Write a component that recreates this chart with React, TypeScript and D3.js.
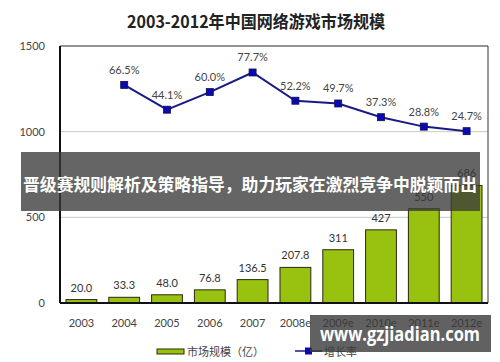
import React, { useEffect, useRef } from 'react';
import * as d3 from 'd3';

const years = ['2003', '2004', '2005', '2006', '2007', '2008e', '2009e', '2010e', '2011e', '2012e'];
const marketSize = [20.0, 33.3, 48.0, 76.8, 136.5, 207.8, 311, 427, 550, 686];
const sizeLabels = ['20.0', '33.3', '48.0', '76.8', '136.5', '207.8', '311', '427', '550', '686'];
const growthYears = ['2004', '2005', '2006', '2007', '2008e', '2009e', '2010e', '2011e', '2012e'];
const growthRate = [66.5, 44.1, 60.0, 77.7, 52.2, 49.7, 37.3, 28.8, 24.7];
const yTicks = [0, 500, 1000, 1500];

const title = '2003-2012年中国网络游戏市场规模';
const bannerText = '晋级赛规则解析及策略指导，助力玩家在激烈竞争中脱颖而出';
const watermark = 'www.gzjiadian.com';

const W = 500;
const H = 362;

export default function App() {
  const ref = useRef<SVGSVGElement>(null);

  useEffect(() => {
    const svg = d3.select(ref.current);
    svg.selectAll('*').remove();

    const margin = { top: 46, right: 12, bottom: 59, left: 60 };
    const font = "'Lato', 'Noto Sans CJK SC', sans-serif";

    const x = d3.scaleBand().domain(years).range([margin.left, W - margin.right]).paddingInner(0.28).paddingOuter(0.14);
    const y = d3.scaleLinear().domain([0, 1500]).range([H - margin.bottom, margin.top]);
    // hidden secondary axis for the growth rate
    const y2 = d3.scaleLinear().domain([0, 100]).range([158.5, 47.8]);

    svg.append('rect').attr('width', W).attr('height', H).attr('fill', '#fff');

    // title
    svg.append('text')
      .attr('x', 256).attr('y', 28)
      .attr('text-anchor', 'middle')
      .attr('font-family', "'Noto Sans CJK SC', sans-serif")
      .attr('font-size', 17).attr('font-weight', 'bold')
      .attr('fill', '#222')
      .attr('textLength', 258).attr('lengthAdjust', 'spacingAndGlyphs')
      .text(title);

    // grid lines
    svg.append('g').selectAll('line')
      .data([500, 1000])
      .join('line')
      .attr('x1', margin.left).attr('x2', W - margin.right)
      .attr('y1', d => y(d)).attr('y2', d => y(d))
      .attr('stroke', '#c8c8c8').attr('stroke-width', 1);

    // frame
    svg.append('line').attr('x1', margin.left).attr('x2', W - margin.right)
      .attr('y1', y(1500)).attr('y2', y(1500)).attr('stroke', '#707070').attr('stroke-width', 1.5);
    svg.append('line').attr('x1', W - margin.right).attr('x2', W - margin.right)
      .attr('y1', y(1500)).attr('y2', y(0)).attr('stroke', '#333').attr('stroke-width', 1);

    // y axis labels
    svg.append('g').selectAll('text')
      .data(yTicks)
      .join('text')
      .attr('x', 45).attr('y', d => y(d) + 4)
      .attr('text-anchor', 'end')
      .attr('font-family', font).attr('font-size', 11).attr('fill', '#444')
      .text(d => d);

    // bars
    svg.append('g').selectAll('rect')
      .data(marketSize)
      .join('rect')
      .attr('x', (d, i) => x(years[i])!)
      .attr('width', x.bandwidth())
      .attr('y', d => y(d))
      .attr('height', d => y(0) - y(d))
      .attr('fill', '#99c10f')
      .attr('stroke', '#2a2a10').attr('stroke-width', 1);

    svg.append('g').selectAll('text')
      .data(marketSize)
      .join('text')
      .attr('x', (d, i) => x(years[i])! + x.bandwidth() / 2)
      .attr('y', d => y(d) - 8)
      .attr('text-anchor', 'middle')
      .attr('font-family', font).attr('font-size', 11).attr('fill', '#333')
      .text((d, i) => sizeLabels[i]);

    // axes lines
    svg.append('line').attr('x1', margin.left).attr('x2', margin.left)
      .attr('y1', y(1500)).attr('y2', y(0)).attr('stroke', '#111').attr('stroke-width', 2);
    svg.append('line').attr('x1', margin.left).attr('x2', W - margin.right)
      .attr('y1', y(0)).attr('y2', y(0)).attr('stroke', '#111').attr('stroke-width', 2);

    // x labels
    svg.append('g').selectAll('text')
      .data(years)
      .join('text')
      .attr('x', d => x(d)! + x.bandwidth() / 2)
      .attr('y', 327)
      .attr('text-anchor', 'middle')
      .attr('font-family', font).attr('font-size', 11).attr('fill', '#444')
      .text(d => d);

    // growth line
    const cx = (d: string) => x(d)! + x.bandwidth() / 2;
    const line = d3.line<number>().x((d, i) => cx(growthYears[i])).y(d => y2(d));
    svg.append('path')
      .datum(growthRate)
      .attr('d', line)
      .attr('fill', 'none')
      .attr('stroke', '#1a1a85').attr('stroke-width', 2);

    svg.append('g').selectAll('rect')
      .data(growthRate)
      .join('rect')
      .attr('x', (d, i) => cx(growthYears[i]) - 3.5)
      .attr('y', d => y2(d) - 3.5)
      .attr('width', 7).attr('height', 7)
      .attr('fill', '#0a0ab4').attr('stroke', '#101050').attr('stroke-width', 0.8);

    svg.append('g').selectAll('text')
      .data(growthRate)
      .join('text')
      .attr('x', (d, i) => cx(growthYears[i]))
      .attr('y', d => y2(d) - 11)
      .attr('text-anchor', 'middle')
      .attr('font-family', font).attr('font-size', 11).attr('fill', '#444')
      .text(d => d.toFixed(1) + '%');

    // legend
    const legend = svg.append('g').attr('font-family', "'Noto Sans CJK SC', sans-serif").attr('font-size', 11).attr('fill', '#444');
    legend.append('rect').attr('x', 157).attr('y', 349).attr('width', 27).attr('height', 5)
      .attr('fill', '#99c10f').attr('stroke', '#2a2a10').attr('stroke-width', 1);
    legend.append('text').attr('x', 187).attr('y', 356).text('市场规模（亿）');
    legend.append('line').attr('x1', 295).attr('x2', 322).attr('y1', 351).attr('y2', 351)
      .attr('stroke', '#1a1a85').attr('stroke-width', 1.5);
    legend.append('rect').attr('x', 305).attr('y', 347.5).attr('width', 7).attr('height', 7).attr('fill', '#0a0ab4');
    legend.append('text').attr('x', 324).attr('y', 356).text('增长率');

    // overlay banner
    svg.append('rect').attr('x', 21).attr('y', 152).attr('width', 459).attr('height', 59)
      .attr('fill', '#3a3a3a').attr('opacity', 0.78);
    svg.append('text')
      .attr('x', 250).attr('y', 191)
      .attr('text-anchor', 'middle')
      .attr('font-family', "'Noto Sans CJK SC', sans-serif")
      .attr('font-size', 17).attr('font-weight', 'bold')
      .attr('fill', '#fff')
      .attr('textLength', 454).attr('lengthAdjust', 'spacingAndGlyphs')
      .text(bannerText);

    // watermark
    svg.append('rect').attr('x', 310).attr('y', 315).attr('width', 181).attr('height', 37)
      .attr('fill', '#3a3a3a').attr('opacity', 0.8);
    svg.append('text')
      .attr('x', 400).attr('y', 341)
      .attr('text-anchor', 'middle')
      .attr('font-family', "'Open Sans', sans-serif")
      .attr('font-size', 19).attr('font-weight', 'bold')
      .attr('fill', '#fff')
      .attr('textLength', 160).attr('lengthAdjust', 'spacingAndGlyphs')
      .text(watermark);
  }, []);

  return (
    <svg ref={ref} width={W} height={H} style={{ position: 'absolute', left: 0, top: 0 }} />
  );
}
